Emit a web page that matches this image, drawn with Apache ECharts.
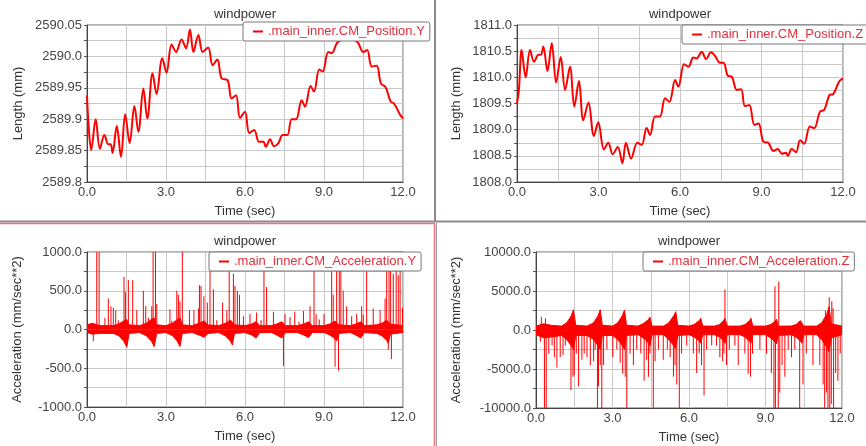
<!DOCTYPE html>
<html>
<head>
<meta charset="utf-8">
<title>windpower</title>
<script src="https://cdn.jsdelivr.net/npm/echarts@6/dist/echarts.min.js"></script>
<style>
  html, body { margin: 0; padding: 0; background: #fff; }
  #main { width: 866px; height: 446px; }
</style>
</head>
<body>
<div id="main"></div>
<script>
// ---- data ----
var xTicks = [0, 3, 6, 9, 12];

// .main_inner.CM_Position.Y  (mm)
var posYTime = [0, 0.06, 0.16, 0.33, 0.49, 0.66, 0.81, 0.9, 0.97, 1.13, 1.29, 1.45, 1.62, 1.8, 1.95, 2.14, 2.29, 2.49, 2.64, 2.86, 3.02, 3.21, 3.38, 3.59, 3.76, 3.91, 4.04, 4.23, 4.39, 4.6, 4.77, 4.95, 5.11, 5.34, 5.49, 5.66, 5.81, 6.0, 6.16, 6.35, 6.53, 6.7, 6.79, 6.95, 7.1, 7.27, 7.43, 7.61, 7.77, 7.94, 8.15, 8.28, 8.49, 8.62, 8.82, 8.95, 9.16, 9.29, 9.5, 9.7, 9.9, 10.1, 10.29, 10.49, 10.64, 10.81, 11.0, 11.16, 11.34, 11.53, 11.66, 11.89, 12.0];
var posYVal = [2589.938, 2589.89, 2589.851, 2589.9, 2589.853, 2589.875, 2589.86, 2589.86, 2589.846, 2589.889, 2589.84, 2589.908, 2589.862, 2589.921, 2589.88, 2589.949, 2589.901, 2589.973, 2589.94, 2589.997, 2589.974, 2590.019, 2590.007, 2590.027, 2590.013, 2590.043, 2590.007, 2590.034, 2590.007, 2590.014, 2589.986, 2589.995, 2589.965, 2589.962, 2589.933, 2589.938, 2589.902, 2589.912, 2589.878, 2589.883, 2589.864, 2589.864, 2589.856, 2589.868, 2589.857, 2589.862, 2589.875, 2589.875, 2589.9, 2589.9, 2589.93, 2589.92, 2589.953, 2589.944, 2589.979, 2589.976, 2590.007, 2590.005, 2590.022, 2590.027, 2590.03, 2590.028, 2590.022, 2590.007, 2590.01, 2589.984, 2589.985, 2589.957, 2589.951, 2589.928, 2589.925, 2589.907, 2589.901];

// .main_inner.CM_Position.Z  (mm)
var posZTime = [0, 0.07, 0.17, 0.32, 0.48, 0.63, 0.79, 0.88, 0.97, 1.12, 1.28, 1.44, 1.61, 1.77, 1.95, 2.11, 2.28, 2.44, 2.63, 2.83, 2.99, 3.2, 3.36, 3.52, 3.71, 3.88, 4.01, 4.2, 4.43, 4.59, 4.77, 4.9, 5.08, 5.26, 5.45, 5.61, 5.82, 5.94, 6.15, 6.31, 6.49, 6.61, 6.8, 6.96, 7.14, 7.29, 7.47, 7.6, 7.76, 7.91, 8.09, 8.25, 8.39, 8.55, 8.74, 8.89, 9.07, 9.25, 9.44, 9.6, 9.75, 9.9, 9.97, 10.11, 10.27, 10.42, 10.57, 10.78, 10.94, 11.15, 11.31, 11.5, 11.64, 11.86, 12.0];
var posZVal = [1809.504, 1809.76, 1810.52, 1810.0, 1810.52, 1810.3, 1810.43, 1810.43, 1810.59, 1810.12, 1810.65, 1809.9, 1810.39, 1809.76, 1810.2, 1809.44, 1809.93, 1809.18, 1809.52, 1808.88, 1809.14, 1808.62, 1808.75, 1808.53, 1808.67, 1808.36, 1808.75, 1808.45, 1808.75, 1808.71, 1809.03, 1808.9, 1809.25, 1809.25, 1809.6, 1809.53, 1809.95, 1809.82, 1810.25, 1810.2, 1810.38, 1810.36, 1810.49, 1810.35, 1810.48, 1810.41, 1810.28, 1810.28, 1810.03, 1810.01, 1809.76, 1809.77, 1809.45, 1809.47, 1809.09, 1809.12, 1808.77, 1808.75, 1808.59, 1808.63, 1808.54, 1808.56, 1808.5, 1808.63, 1808.57, 1808.8, 1808.73, 1809.06, 1809.03, 1809.34, 1809.38, 1809.66, 1809.68, 1809.92, 1809.98];

// .main_inner.CM_Acceleration.Y  (mm/sec**2): dense noise band + spikes
var accYEnvTime = [0, 0.2, 0.5, 1.0, 1.2, 1.4, 1.51, 1.6, 2.0, 2.25, 2.45, 2.55, 2.65, 3.0, 3.25, 3.43, 3.53, 3.62, 4.0, 4.25, 4.45, 4.51, 4.6, 5.0, 5.25, 5.45, 5.52, 5.6, 6.0, 6.25, 6.42, 6.48, 6.56, 7.0, 7.2, 7.4, 7.45, 7.53, 8.0, 8.22, 8.42, 8.47, 8.55, 9.0, 9.22, 9.42, 9.48, 9.56, 10.0, 10.2, 10.4, 10.46, 10.54, 11.0, 11.2, 11.38, 11.44, 11.52, 12.0];
var accYEnvUpper = [60, 80, 50, 50, 70, 110, 130, 60, 50, 80, 130, 150, 60, 50, 80, 130, 150, 60, 50, 80, 110, 120, 60, 50, 80, 120, 130, 60, 50, 70, 100, 110, 50, 50, 70, 100, 110, 50, 50, 70, 100, 110, 50, 50, 70, 110, 120, 60, 50, 70, 100, 110, 50, 60, 80, 120, 140, 70, 50];
var accYEnvLower = [-40, -60, -50, -50, -80, -150, -230, -50, -40, -80, -150, -220, -50, -40, -80, -150, -220, -50, -40, -70, -100, -120, -50, -40, -80, -150, -200, -50, -40, -70, -110, -130, -40, -40, -70, -110, -130, -40, -40, -70, -105, -120, -40, -40, -70, -120, -150, -50, -40, -70, -110, -135, -40, -50, -80, -140, -180, -60, -40];
var accYSpikeTime = [0.24, 0.37, 0.46, 0.68, 0.81, 0.91, 1.0, 1.09, 1.19, 1.405, 1.46, 1.57, 1.735, 1.89, 2.14, 2.23, 2.33, 2.46, 2.51, 2.6, 2.65, 3.15, 3.22, 3.41, 3.47, 3.53, 3.62, 3.89, 4.06, 4.23, 4.27, 4.33, 4.44, 4.57, 4.67, 4.8, 4.93, 5.15, 5.31, 5.4, 5.56, 5.62, 5.71, 5.79, 5.94, 6.19, 6.44, 6.61, 6.72, 6.82, 7.08, 7.46, 7.52, 7.71, 7.89, 8.05, 8.22, 8.47, 8.62, 8.7, 8.82, 9.0, 9.29, 9.35, 9.42, 9.48, 9.55, 9.58, 9.64, 9.73, 9.86, 10.05, 10.24, 10.43, 10.49, 10.62, 10.87, 11.13, 11.32, 11.38, 11.44, 11.47, 11.53, 11.56, 11.63, 11.74, 11.82, 11.89, 11.98];
var accYSpikeVal = [-150, 1200, 1200, 150, 400, 300, 280, 250, 120, 680, 480, 640, 640, 250, 500, 300, 150, 300, 1200, 1200, 330, 260, 110, 500, 450, 360, 1200, 250, 250, 270, 570, 560, 430, 350, 1200, 520, 120, 350, 250, 920, 720, 560, 500, 450, 170, 200, 220, 120, 920, 550, 230, -470, 200, 160, 230, 100, 240, 300, 860, 200, 130, 200, 750, 450, -480, 900, -530, 880, 820, 500, 300, 170, 200, 300, 190, 750, 270, 250, 400, 1200, -260, 900, 1200, -380, 720, 1200, 700, 1200, 280];

// .main_inner.CM_Acceleration.Z  (mm/sec**2)
var accZEnvTime = [0, 0.3, 0.6, 1.0, 1.2, 1.38, 1.47, 1.56, 2.0, 2.25, 2.43, 2.52, 2.6, 3.0, 3.2, 3.38, 3.47, 3.55, 4.0, 4.2, 4.4, 4.47, 4.55, 5.0, 5.2, 5.4, 5.48, 5.56, 6.0, 6.2, 6.4, 6.46, 6.54, 7.0, 7.2, 7.35, 7.41, 7.5, 8.0, 8.2, 8.37, 8.43, 8.5, 9.0, 9.2, 9.37, 9.43, 9.5, 10.0, 10.2, 10.37, 10.43, 10.5, 11.0, 11.2, 11.4, 11.49, 11.58, 12.0];
var accZEnvUpper = [500, 800, 600, 500, 900, 1800, 2600, 600, 500, 900, 1800, 2600, 600, 500, 900, 1800, 2550, 600, 500, 800, 1300, 1650, 500, 500, 900, 1800, 2350, 600, 500, 700, 1200, 1500, 500, 500, 700, 1200, 1500, 500, 500, 700, 1200, 1500, 500, 500, 700, 1100, 1400, 500, 500, 700, 1200, 1450, 500, 500, 900, 2000, 3000, 800, 500];
var accZEnvLower = [-600, -1000, -900, -700, -1200, -2000, -2500, -700, -700, -1200, -2000, -2500, -700, -700, -1200, -2000, -2500, -700, -600, -1000, -1600, -2000, -600, -600, -1200, -2000, -2400, -700, -600, -900, -1400, -1700, -600, -600, -900, -1400, -1700, -600, -600, -900, -1400, -1700, -600, -600, -1000, -1500, -1800, -700, -600, -900, -1400, -1700, -600, -600, -1200, -2200, -2800, -1000, -600];
var accZSpikeTime = [0.17, 0.21, 0.33, 0.37, 0.4, 0.5, 0.63, 0.72, 0.82, 0.95, 1.06, 1.15, 1.28, 1.37, 1.45, 1.5, 1.58, 1.67, 1.8, 1.89, 2.0, 2.13, 2.26, 2.32, 2.41, 2.45, 2.52, 2.58, 2.65, 2.78, 3.01, 3.17, 3.3, 3.4, 3.5, 3.56, 3.69, 3.82, 3.95, 4.11, 4.24, 4.34, 4.41, 4.47, 4.6, 4.67, 4.8, 4.99, 5.15, 5.26, 5.39, 5.45, 5.52, 5.62, 5.71, 5.91, 6.17, 6.3, 6.4, 6.49, 6.59, 6.69, 6.89, 7.08, 7.21, 7.32, 7.37, 7.41, 7.47, 7.58, 7.8, 7.93, 8.19, 8.32, 8.41, 8.49, 8.78, 9.04, 9.23, 9.33, 9.37, 9.39, 9.5, 9.52, 9.56, 9.65, 9.76, 9.89, 10.02, 10.15, 10.34, 10.47, 10.6, 10.86, 11.13, 11.26, 11.32, 11.35, 11.39, 11.45, 11.5, 11.52, 11.58, 11.6, 11.65, 11.67, 11.75, 11.84, 11.93];
var accZSpikeVal = [-1500, 1700, -12000, 1500, -12000, -3000, -2000, -3500, -4800, -3500, -3200, -2000, -1500, -7700, -6000, -5800, -3000, -7200, -3800, -3000, -3500, -4500, -4000, -2500, -12000, -7200, -4500, -12000, -4500, -2500, -3500, -2500, -4200, -5600, -6000, -12000, -3000, -4500, -2500, -3000, -6500, -3800, -6000, -3000, -12000, -4000, -2500, -3800, -2500, -3500, -6000, -4500, -7000, -12000, -3000, -2000, -3000, -5500, -3000, -4500, -8400, -2500, -2000, -2000, -3500, -4000, -3000, 5200, -4500, -2500, -2000, -4500, -3000, -5600, -6000, -3000, -2500, -3000, -5500, -12000, 5600, -12000, -12000, 6200, -8000, -4500, -6000, -2500, -3500, -2500, -12000, -7000, -3000, -4500, -4500, -7000, -12000, 2500, -8000, -12000, 4200, -12000, -9500, 3700, 2800, -12000, -5500, -6500, -3000];

var names = ['.main_inner.CM_Position.Y', '.main_inner.CM_Position.Z',
             '.main_inner.CM_Acceleration.Y', '.main_inner.CM_Acceleration.Z'];

// ---- chart ----
var RED = '#ff0000';
var FONT = '"Liberation Sans", Arial, sans-serif';

function pairs(ts, vs) {
    return ts.map(function (t, i) { return [t, vs[i]]; });
}
function fmt(v) {
    var r = Math.round(v * 100);
    return (r % 10 !== 0) ? v.toFixed(2) : v.toFixed(1);
}

var grids = [
    {left: 87, top: 25, width: 316, height: 157},
    {left: 517, top: 25, width: 326, height: 157},
    {left: 87, top: 252, width: 316, height: 155},
    {left: 536, top: 252, width: 306, height: 156}
];
var yCfg = [
    {min: 2589.8, max: 2590.05, interval: 0.05, name: 'Length (mm)', gap: 62},
    {min: 1808, max: 1811, interval: 0.5, name: 'Length (mm)', gap: 54},
    {min: -1000, max: 1000, interval: 500, name: 'Acceleration (mm/sec**2)', gap: 63},
    {min: -10000, max: 10000, interval: 5000, name: 'Acceleration (mm/sec**2)', gap: 73}
];
var legendPos = [[243, 22], [682, 25], [209, 252], [643, 252]];

var chartDom = document.getElementById('main');
var myChart = echarts.init(chartDom);

var xAxes = [], yAxes = [], titles = [], legends = [];
grids.forEach(function (g, i) {
    g.show = true;
    g.backgroundColor = '#fff';
    g.borderColor = '#666';
    g.borderWidth = 1;
    xAxes.push({
        gridIndex: i, type: 'value', min: xTicks[0], max: xTicks[xTicks.length - 1], interval: 3,
        name: 'Time (sec)', nameLocation: 'middle', nameGap: 23,
        nameTextStyle: {fontSize: 13, color: '#333', fontFamily: FONT},
        axisLine: {show: true, onZero: false, lineStyle: {color: '#444'}},
        axisTick: {show: false},
        axisLabel: {margin: 4, fontSize: 13, color: '#444', fontFamily: FONT,
            formatter: function (v) { return v.toFixed(1); }},
        splitLine: {show: true, lineStyle: {color: '#c8c8c8'}},
        minorTick: {show: false, splitNumber: 2},
        minorSplitLine: {show: true, lineStyle: {color: '#c8c8c8'}}
    });
    var c = yCfg[i];
    yAxes.push({
        gridIndex: i, type: 'value', min: c.min, max: c.max, interval: c.interval,
        name: c.name, nameLocation: 'middle', nameGap: c.gap,
        nameTextStyle: {fontSize: 13, color: '#333', fontFamily: FONT},
        axisLine: {show: true, lineStyle: {color: '#444'}},
        axisTick: {show: true, length: 3, lineStyle: {color: '#555'}},
        minorTick: {show: true, splitNumber: 2, length: 3, lineStyle: {color: '#555'}},
        axisLabel: {margin: 5, fontSize: 13, color: '#444', fontFamily: FONT, formatter: fmt},
        splitLine: {show: true, lineStyle: {color: '#c8c8c8'}},
        minorSplitLine: {show: true, lineStyle: {color: '#c8c8c8'}}
    });
    titles.push({
        text: 'windpower', left: g.left + g.width / 2, top: g.top - 17, textAlign: 'center',
        padding: 0,
        textStyle: {fontSize: 13, fontWeight: 'normal', color: '#333', fontFamily: FONT}
    });
    legends.push({
        data: [names[i]], left: legendPos[i][0], top: legendPos[i][1],
        orient: 'horizontal', icon: 'rect', itemWidth: 10, itemHeight: 2,
        padding: [3, 5, 3, 10], backgroundColor: '#fff',
        borderColor: '#777', borderWidth: 1, borderRadius: 2,
        selectedMode: false,
        textStyle: {fontSize: 13, color: '#e0303c', fontFamily: FONT}
    });
});

function lineSeries(i, data, smooth) {
    return {
        name: names[i], type: 'line', xAxisIndex: i, yAxisIndex: i,
        data: data, showSymbol: false, symbol: 'none', smooth: smooth,
        lineStyle: {color: RED, width: 2}, itemStyle: {color: RED}, animation: false
    };
}
function bandSeries(i, data) {
    return {
        name: names[i], type: 'line', xAxisIndex: i, yAxisIndex: i,
        data: data, showSymbol: false, symbol: 'none',
        lineStyle: {color: RED, width: 1}, itemStyle: {color: RED},
        areaStyle: {color: RED, opacity: 1}, animation: false
    };
}
function spikeSeries(i, data) {
    return {
        name: names[i], type: 'bar', xAxisIndex: i, yAxisIndex: i,
        data: data, barWidth: 1, clip: true,
        itemStyle: {color: RED}, animation: false
    };
}

var option = {
    backgroundColor: '#fff',
    animation: false,
    title: titles,
    legend: legends,
    grid: grids,
    xAxis: xAxes,
    yAxis: yAxes,
    series: [
        lineSeries(0, pairs(posYTime, posYVal), 0.35),
        lineSeries(1, pairs(posZTime, posZVal), 0.35),
        bandSeries(2, pairs(accYEnvTime, accYEnvUpper)),
        bandSeries(2, pairs(accYEnvTime, accYEnvLower)),
        spikeSeries(2, pairs(accYSpikeTime, accYSpikeVal)),
        bandSeries(3, pairs(accZEnvTime, accZEnvUpper)),
        bandSeries(3, pairs(accZEnvTime, accZEnvLower)),
        spikeSeries(3, pairs(accZSpikeTime, accZSpikeVal))
    ],
    graphic: [
        // panel separators
        {type: 'line', shape: {x1: 435, y1: 0, x2: 435, y2: 222}, style: {stroke: '#8a8a8a', lineWidth: 2}, z: 100},
        {type: 'line', shape: {x1: 0, y1: 221.5, x2: 866, y2: 221.5}, style: {stroke: '#8a8a8a', lineWidth: 2}, z: 100},
        {type: 'line', shape: {x1: 0, y1: 223.5, x2: 435, y2: 223.5}, style: {stroke: '#e87080', lineWidth: 1.5}, z: 100},
        {type: 'line', shape: {x1: 434.5, y1: 223, x2: 434.5, y2: 446}, style: {stroke: '#e87080', lineWidth: 1.5}, z: 100},
        {type: 'line', shape: {x1: 436.5, y1: 223, x2: 436.5, y2: 446}, style: {stroke: '#999', lineWidth: 1}, z: 100}
    ]
};

option && myChart.setOption(option);
</script>
</body>
</html>
